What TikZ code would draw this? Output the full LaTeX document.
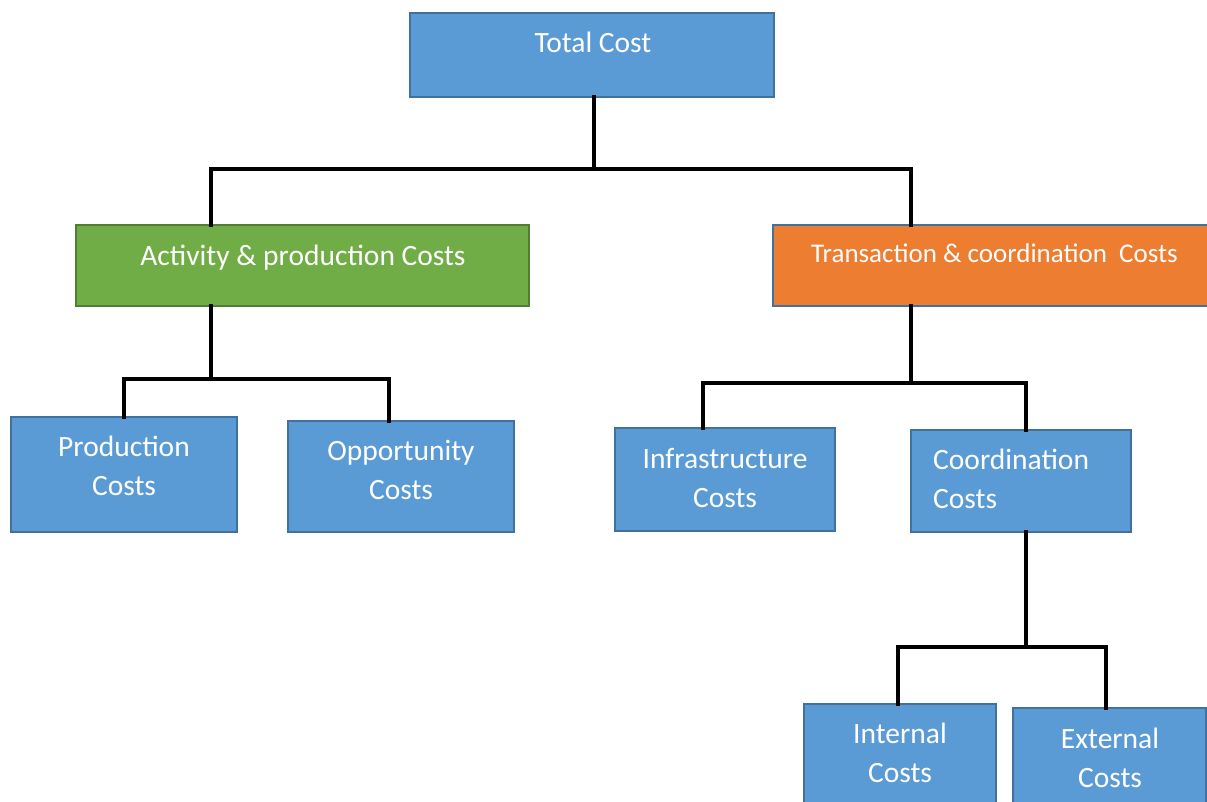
\documentclass[tikz,border=0pt]{standalone}
\usepackage{fontspec}
\setmainfont{Carlito}
\definecolor{boxblue}{HTML}{5B9BD5}
\definecolor{edgeblue}{HTML}{41719C}
\definecolor{boxgreen}{HTML}{70AD47}
\definecolor{edgegreen}{HTML}{507E32}
\definecolor{boxorange}{HTML}{ED7D31}
\tikzset{
  costbox/.style={draw=edgeblue, line width=2pt, fill=boxblue, inner sep=0pt,
    outer sep=0pt, anchor=north west},
  costtext/.style={text=white, font=\fontsize{29.5}{39}\selectfont, align=center,
    anchor=base, inner sep=0pt},
  conn/.style={draw=black, line width=4pt, line cap=rect, line join=miter},
}
\newcommand{\costrect}[6]{%
  \node[costbox, #2, minimum width=#5pt-#3pt, minimum height=#6pt-#4pt]
    (#1) at (#3pt,-#4pt) {};}
\begin{document}
\begin{tikzpicture}[x=1pt,y=1pt]
\useasboundingbox (0,0) rectangle (1207,-802);
\clip (0,0) rectangle (1207,-802);

% boxes: name, style, left, top, right, bottom (pixels from top left)
\costrect{total}{}{410}{13}{774}{97}
\costrect{act}{fill=boxgreen, draw=edgegreen}{76}{225}{529}{306}
\costrect{tran}{fill=boxorange}{773}{225}{1212}{306}
\costrect{prod}{}{11}{417}{237}{532}
\costrect{opp}{}{288}{421}{514}{532}
\costrect{infra}{}{615}{428}{835}{531}
\costrect{coord}{}{911}{430}{1131}{532}
\costrect{int}{}{804}{704}{996}{808}
\costrect{ext}{}{1013}{708}{1206}{808}

% labels (two-line labels are placed by the baseline of their last line)
\node[costtext] (totalT) at (593,-53) {Total Cost};
\node[costtext] (actT) at (303,-266) {Activity \& production Costs};
\node[costtext, font=\fontsize{27}{33}\selectfont] (tranT) at (994.5,-263)
  {Transaction \& coordination\ \ Costs};
\node[costtext] (prodT) at (124,-495) {Production\\Costs};
\node[costtext] (oppT) at (401,-499) {Opportunity\\Costs};
\node[costtext] (infraT) at (725,-507) {Infrastructure\\Costs};
\node[costtext, anchor=base west, align=left] (coordT) at (933,-508) {Coordination\\Costs};
\node[costtext] (intT) at (900,-782) {Internal\\Costs};
\node[costtext] (extT) at (1110,-787) {External\\Costs};

% junction points of the connector bars
\coordinate (j0) at (594,-169);
\coordinate (jA) at (211,-169);
\coordinate (jB) at (911,-169);
\coordinate (jAm) at (211,-379);
\coordinate (jA1) at (124,-379);
\coordinate (jA2) at (389,-379);
\coordinate (jBm) at (911,-383);
\coordinate (jB1) at (703,-383);
\coordinate (jB2) at (1026,-383);
\coordinate (jCm) at (1026,-647);
\coordinate (jC1) at (898,-647);
\coordinate (jC2) at (1106,-647);

% connectors
\draw[conn] (total.south -| j0) -- (j0);
\draw[conn] (act.north -| jA) -- (jA) -- (jB) -- (tran.north -| jB);
\draw[conn] (act.south -| jAm) -- (jAm);
\draw[conn] (prod.north -| jA1) -- (jA1) -- (jA2) -- (opp.north -| jA2);
\draw[conn] (tran.south -| jBm) -- (jBm);
\draw[conn] (infra.north -| jB1) -- (jB1) -- (jB2) -- (coord.north -| jB2);
\draw[conn] (coord.south -| jCm) -- (jCm);
\draw[conn] (int.north -| jC1) -- (jC1) -- (jC2) -- (ext.north -| jC2);
\end{tikzpicture}
\end{document}
